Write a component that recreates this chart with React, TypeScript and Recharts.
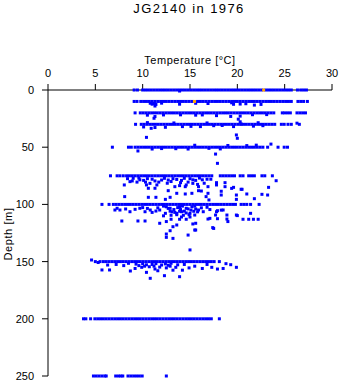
import { Scatter, ScatterChart, XAxis, YAxis } from "recharts";

// temperature profile casts of JG2140, 1976 — depth axis points down
const tempTicks = [0, 5, 10, 15, 20, 25, 30];
const depthTicks = [0, 50, 100, 150, 200, 250];

const temps0 = [9.1, 9.45, 10.0, 10.3, 10.6, 10.9, 11.2, 11.5, 11.8, 12.1, 12.4, 12.7, 13.0, 13.3, 13.6, 13.9, 14.2, 14.5, 14.8, 15.1, 15.4, 15.7, 16.0, 16.3, 16.6, 16.9, 17.2, 17.5, 17.8, 18.1, 18.4, 18.7, 19.0, 19.3, 19.6, 19.9, 20.2, 20.5, 20.8, 21.1, 21.4, 21.7, 22.0, 22.3, 22.6, 23.0, 23.3, 23.6, 23.9, 24.2, 24.5, 24.8, 25.1, 25.4, 25.7, 26.35, 26.7, 27.0, 27.3];
const temps10 = [9.1, 9.4, 9.8, 10.1, 10.4, 10.7, 11.0, 11.3, 11.6, 11.9, 12.2, 12.5, 12.8, 13.1, 13.4, 13.7, 14.0, 14.3, 14.6, 14.9, 15.2, 15.8, 16.1, 16.4, 16.7, 17.0, 17.3, 17.6, 17.9, 18.2, 18.5, 18.8, 19.1, 19.4, 19.7, 20.0, 20.3, 20.6, 20.9, 21.2, 21.5, 21.8, 22.1, 22.4, 22.7, 23.0, 23.3, 23.6, 23.9, 24.2, 24.5, 24.8, 25.1, 25.4, 25.7, 26.4, 26.7, 27.0, 27.4];
const temps20 = [9.2, 9.75, 10.05, 10.35, 10.65, 10.95, 11.25, 11.55, 11.85, 12.15, 12.45, 12.75, 13.05, 13.35, 13.65, 13.95, 14.25, 14.55, 14.85, 15.15, 15.45, 15.75, 16.05, 16.35, 16.65, 16.95, 17.25, 17.55, 17.85, 18.15, 18.45, 18.75, 19.05, 19.35, 19.65, 19.95, 20.25, 20.55, 20.85, 21.15, 21.45, 21.75, 22.05, 22.35, 22.65, 22.95, 23.25, 23.55, 23.85, 24.75, 25.0, 25.3, 25.6, 26.3, 26.6, 26.9, 27.2];
const temps30 = [9.25, 9.85, 10.15, 10.45, 10.75, 11.05, 11.35, 11.65, 11.95, 12.25, 12.55, 12.85, 13.15, 13.45, 13.75, 14.05, 14.35, 14.65, 14.95, 15.25, 15.55, 15.85, 16.15, 16.45, 16.75, 17.05, 17.35, 17.65, 17.95, 18.25, 18.55, 18.85, 19.15, 19.45, 19.75, 20.05, 20.35, 20.65, 20.95, 21.25, 21.55, 21.85, 22.15, 22.45, 22.75, 23.05, 23.35, 23.65, 23.95, 24.65, 24.95, 25.35, 25.7, 26.55];
const temps50 = [6.8, 8.5, 8.8, 9.2, 9.5, 9.8, 10.1, 10.4, 10.7, 11.0, 11.3, 11.6, 11.9, 12.2, 12.5, 12.8, 13.1, 13.4, 13.7, 14.0, 14.3, 14.6, 14.9, 15.2, 15.5, 15.8, 16.1, 16.4, 16.7, 17.0, 17.3, 17.6, 17.9, 18.2, 18.5, 18.8, 19.1, 19.4, 19.7, 20.0, 20.3, 20.6, 20.9, 21.2, 21.5, 21.8, 22.1, 22.4, 22.7, 23.2, 24.3, 24.95, 25.3];
const temps75 = [6.6, 7.3, 7.6, 7.95, 8.3, 8.6, 8.9, 9.2, 9.5, 9.8, 10.1, 10.4, 10.7, 11.0, 11.3, 11.6, 11.9, 12.2, 12.5, 12.8, 13.1, 13.4, 13.7, 14.0, 14.3, 14.6, 14.9, 15.2, 15.5, 15.8, 16.1, 16.4, 16.7, 17.0, 17.3, 18.2, 18.5, 18.8, 19.1, 19.4, 19.7, 20.3, 20.6, 21.2, 21.5, 21.8, 22.6, 22.9, 23.7];
const temps100 = [5.7, 6.45, 6.9, 7.2, 7.5, 7.8, 8.1, 8.4, 8.7, 9.0, 9.3, 9.6, 9.9, 10.2, 10.5, 10.8, 11.1, 11.4, 11.7, 12.0, 12.3, 12.6, 12.9, 13.2, 13.5, 13.8, 14.1, 14.4, 14.7, 15.0, 15.3, 15.6, 15.9, 16.2, 16.5, 16.8, 17.1, 17.4, 17.7, 18.0, 18.3, 18.6, 18.9, 19.2, 19.5, 19.8, 20.4, 20.7, 21.0, 21.4, 22.3];
const temps150 = [5.0, 5.5, 5.85, 6.15, 6.45, 6.75, 7.05, 7.35, 7.65, 7.95, 8.25, 8.55, 8.85, 9.15, 9.45, 9.75, 10.05, 10.35, 10.65, 10.95, 11.25, 11.55, 11.85, 12.15, 12.45, 12.75, 13.05, 13.35, 13.65, 13.95, 14.25, 14.55, 14.85, 15.15, 15.45, 15.75, 16.05, 16.35, 16.65, 16.95, 17.25, 17.55, 18.1];
const temps200 = [3.75, 4.0, 4.5, 4.95, 5.25, 5.55, 5.85, 6.15, 6.45, 6.75, 7.05, 7.35, 7.65, 7.95, 8.25, 8.55, 8.85, 9.15, 9.45, 9.75, 10.05, 10.35, 10.65, 10.95, 11.25, 11.55, 11.85, 12.15, 12.45, 12.75, 13.05, 13.35, 13.65, 13.95, 14.25, 14.55, 14.85, 15.15, 15.45, 15.75, 16.05, 16.35, 16.65, 16.95, 17.25, 18.1];
const temps250 = [4.8, 5.1, 5.4, 5.7, 6.0, 6.15, 7.15, 7.45, 7.7, 7.9, 8.45, 8.75, 9.05, 9.35, 9.65, 9.95, 12.5];

// readings that sit off the nominal sampling depths: [temperature, depth]
const offLevel: [number, number][] = [
  [13.9, 0.9],
  [11.2, 11.8], [11.4, 12.6], [11.3, 14.0], [11.0, 12.4], [10.8, 11.6], [12.0, 11.5], [13.9, 12.4], [15.6, 11.6], [16.9, 11.8], [19.4, 11.2], [19.6, 12.5], [20.3, 12.3], [20.9, 12.0], [21.8, 13.2], [22.5, 12.6],
  [11.2, 24.7], [11.3, 23.2], [10.5, 22.0], [12.2, 21.8], [14.0, 21.7], [15.6, 22.0], [16.3, 21.8], [17.8, 22.4], [19.3, 23.1], [20.3, 22.8], [21.6, 21.6], [23.1, 21.5],
  [10.1, 32.3], [10.9, 33.5], [11.3, 32.8], [10.5, 28.5], [12.4, 32.6], [13.3, 28.8], [14.2, 32.0], [15.1, 31.8], [16.1, 32.0], [16.8, 28.8], [17.5, 31.2], [18.4, 31.0], [19.6, 32.0], [20.1, 25.5], [20.3, 27.8], [20.4, 29.7], [21.7, 31.6], [22.2, 28.6], [22.7, 31.2], [26.3, 29.0],
  [10.4, 41.4], [19.9, 39.3], [20.0, 42.2],
  [9.5, 53.3], [11.0, 51.6], [12.0, 51.2], [13.5, 51.3], [14.8, 51.6], [15.5, 48.3], [17.0, 51.0], [17.7, 56.0], [18.2, 51.5], [19.0, 48.5], [21.0, 48.6], [22.0, 48.2], [23.55, 47.3],
  [17.9, 64.1],
  [8.06, 83.0], [8.66, 80.1], [9.0, 77.2], [10.4, 83.0], [10.77, 81.6], [11.5, 83.0], [10.6, 85.9], [11.3, 85.9], [12.7, 88.0], [13.4, 84.5], [13.9, 83.6], [14.6, 83.0], [15.3, 81.6], [15.9, 84.5], [16.9, 84.5], [17.8, 83.0], [18.7, 84.5], [19.6, 85.1], [20.5, 86.8], [13.6, 90.3], [14.5, 90.9], [15.2, 90.3], [16.2, 88.3], [16.9, 90.3], [18.3, 91.8], [19.9, 91.8], [21.0, 90.9], [22.6, 91.2], [23.2, 91.8], [23.3, 85.1], [8.1, 93.2], [10.6, 93.8], [11.4, 93.8], [12.4, 95.6], [12.9, 93.8], [16.7, 93.2], [17.0, 96.1], [19.9, 95.6], [21.8, 95.0], [24.1, 79.3], [12.0, 78.7], [12.7, 78.7], [14.1, 79.0], [15.0, 77.5], [16.3, 78.5], [17.2, 78.0], [9.7, 78.5], [20.4, 86.8], [19.4, 86.0], [18.3, 88.5], [15.9, 88.0], [17.8, 81.0], [18.7, 81.0], [11.7, 80.5], [13.0, 80.0], [14.5, 84.5], [8.9, 79.5], [9.4, 80.5], [10.1, 79.0], [11.0, 78.0], [13.6, 78.2], [14.8, 80.5], [15.6, 79.0], [16.5, 81.5],
  [8.4, 77.5], [9.6, 77.0], [10.5, 77.5], [11.3, 79.5], [12.3, 77.2], [13.2, 77.5], [14.4, 77.2], [15.3, 78.5], [16.0, 77.0], [16.8, 78.0], [12.6, 81.5], [14.0, 81.0], [15.8, 82.5], [10.3, 80.5],
  [7.07, 104.9], [7.6, 104.9], [8.66, 106.4], [9.7, 103.4], [10.25, 106.4], [10.8, 104.9], [11.8, 104.9], [12.4, 107.8], [12.9, 103.4], [13.6, 107.8], [14.1, 106.4], [14.6, 103.4], [15.0, 107.8], [15.5, 109.3], [15.9, 104.9], [16.4, 106.4], [17.1, 104.5], [17.8, 106.4], [18.5, 104.9], [18.9, 109.3], [19.9, 109.3], [20.6, 113.0], [21.2, 113.0], [21.7, 113.0], [22.2, 113.0], [21.4, 107.8], [20.0, 109.8], [19.0, 115.0], [7.8, 114.5], [9.5, 114.5], [10.25, 114.5], [11.8, 116.5], [12.5, 115.0], [13.0, 113.0], [13.9, 113.0], [14.6, 113.0], [15.3, 117.1], [15.6, 116.5], [17.1, 112.2], [17.5, 121.0], [13.2, 119.5], [13.6, 118.0], [12.9, 123.0], [12.5, 125.9], [12.5, 128.8], [13.2, 129.7], [14.8, 126.8], [15.5, 122.4], [16.9, 112.8], [17.9, 112.5], [18.9, 112.8], [17.4, 120.3], [15.6, 122.4], [17.9, 105.5], [18.3, 105.0], [17.7, 109.3], [12.5, 102.1], [12.9, 105.9], [13.4, 107.0], [13.7, 102.8], [14.0, 104.5], [14.4, 105.9], [14.8, 103.9], [15.2, 102.1], [15.6, 104.0], [13.9, 102.1], [13.1, 106.5], [13.6, 109.0], [14.3, 109.5], [14.9, 109.0], [15.4, 106.0], [11.4, 105.8], [11.0, 107.0], [9.2, 104.3], [8.2, 104.0], [10.0, 102.8], [7.3, 103.4],
  [12.2, 101.5], [12.7, 103.5], [13.3, 104.5], [13.9, 106.0], [14.6, 107.5], [15.1, 105.0], [15.8, 106.5], [16.2, 103.0], [13.0, 109.5], [14.1, 111.0], [15.0, 111.0], [12.2, 110.0], [11.6, 103.0], [10.5, 103.5], [16.8, 102.5], [14.2, 101.5], [15.5, 101.5],
  [15.0, 139.8],
  [4.6, 148.6], [5.3, 150.8], [18.8, 151.8],
  [5.7, 157.3], [6.5, 157.3], [8.7, 158.2], [9.2, 156.0], [10.4, 159.4], [10.8, 164.6], [11.3, 156.5], [12.3, 162.3], [13.9, 163.2], [9.9, 155.0], [10.7, 154.5], [11.8, 154.8], [12.5, 155.5], [12.9, 154.0], [13.5, 155.0], [14.2, 157.5], [14.9, 155.5], [15.5, 154.0], [16.3, 156.0], [17.3, 155.0], [17.9, 156.5], [18.5, 156.0], [19.3, 152.7], [19.9, 155.0], [8.0, 153.5], [7.2, 152.5], [6.3, 153.0], [11.0, 152.5], [12.0, 153.0], [14.4, 152.5], [16.8, 152.5], [13.2, 157.5], [11.6, 158.0],
  [8.5, 151.5], [9.3, 152.2], [10.0, 151.8], [10.4, 152.8], [11.4, 151.8], [12.4, 152.0], [13.0, 151.5], [13.7, 152.8], [10.2, 154.0], [11.2, 154.0], [12.7, 153.2], [9.6, 153.5],
];

// flagged readings (drawn orange)
const flaggedTemps = [22.78, 15.47];
const flaggedDepths = [0, 10];

type Obs = { t: number; d: number };

const levels: [number, number[]][] = [
  [0, temps0],
  [10, temps10],
  [20, temps20],
  [30, temps30],
  [50, temps50],
  [75, temps75],
  [100, temps100],
  [150, temps150],
  [200, temps200],
  [250, temps250],
];

const goodData: Obs[] = [
  ...levels.flatMap(([d, ts]) => ts.map((t) => ({ t, d }))),
  ...offLevel.map(([t, d]) => ({ t, d })),
];
const flaggedData: Obs[] = flaggedTemps.map((t, i) => ({ t, d: flaggedDepths[i] }));

const FONT = "'Liberation Sans', Arial, Helvetica, sans-serif";
const tickStyle = { fill: "#000", fontSize: 11, fontFamily: FONT };

function Square(props: any) {
  const { cx, cy, fill } = props;
  if (cx == null || cy == null) return null;
  return <rect x={cx - 1.5} y={cy - 1.5} width={3} height={3} fill={fill} />;
}

export default function App() {
  return (
    <div style={{ position: "absolute", left: 0, top: 0, width: 341, height: 384, background: "#fff" }}>
      <ScatterChart width={341} height={384} margin={{ top: 60, right: 9, bottom: 8, left: 8 }}>
        <XAxis
          type="number"
          dataKey="t"
          orientation="top"
          domain={[0, 30]}
          ticks={tempTicks}
          interval={0}
          height={30}
          tick={tickStyle}
          tickSize={6}
          tickMargin={7}
          axisLine={{ stroke: "#000" }}
          tickLine={{ stroke: "#000" }}
        />
        <YAxis
          type="number"
          dataKey="d"
          reversed
          domain={[0, 250]}
          ticks={depthTicks}
          interval={0}
          width={40}
          tick={tickStyle}
          tickSize={6}
          tickMargin={8}
          axisLine={{ stroke: "#000" }}
          tickLine={{ stroke: "#000" }}
        />
        <Scatter data={goodData} fill="#0000ff" shape={Square} isAnimationActive={false} />
        <Scatter data={flaggedData} fill="#ffa500" shape={Square} isAnimationActive={false} />
      </ScatterChart>
      <svg
        width={341}
        height={384}
        style={{ position: "absolute", left: 0, top: 0, pointerEvents: "none" }}
        fontFamily={FONT}
      >
        <text x={189} y={13} textAnchor="middle" fontSize={13} letterSpacing={1.4} fill="#000">
          JG2140 in 1976
        </text>
        <text x={190} y={64} textAnchor="middle" fontSize={11} letterSpacing={0.5} fill="#000">
          Temperature [°C]
        </text>
        <text
          x={11.5}
          y={234}
          textAnchor="middle"
          fontSize={11}
          letterSpacing={0.6}
          fill="#000"
          transform="rotate(-90 11.5 234)"
        >
          Depth [m]
        </text>
      </svg>
    </div>
  );
}
